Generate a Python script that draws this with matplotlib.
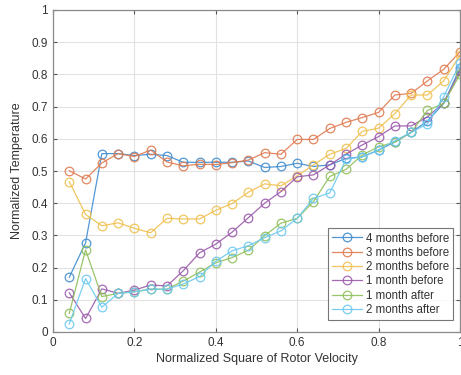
import matplotlib
matplotlib.use("Agg")
import matplotlib.pyplot as plt
import numpy as np

x = [0.04, 0.08, 0.12, 0.16, 0.20, 0.24, 0.28, 0.32, 0.36, 0.40, 0.44, 0.48, 0.52,
     0.56, 0.60, 0.64, 0.68, 0.72, 0.76, 0.80, 0.84, 0.88, 0.92, 0.96, 1.00]

m4_before = [0.170, 0.277, 0.554, 0.554, 0.548, 0.552, 0.548, 0.527, 0.527, 0.527, 0.527, 0.531, 0.511,
             0.514, 0.524, 0.514, 0.519, 0.539, 0.544, 0.565, 0.590, 0.620, 0.655, 0.710, 0.820]
m3_before = [0.501, 0.475, 0.525, 0.554, 0.545, 0.565, 0.528, 0.516, 0.521, 0.520, 0.526, 0.534, 0.557,
             0.552, 0.598, 0.598, 0.632, 0.651, 0.666, 0.682, 0.736, 0.741, 0.780, 0.816, 0.870]
m2_before = [0.467, 0.365, 0.330, 0.339, 0.322, 0.308, 0.353, 0.351, 0.351, 0.378, 0.399, 0.434, 0.460,
             0.454, 0.485, 0.519, 0.552, 0.570, 0.623, 0.633, 0.678, 0.736, 0.736, 0.780, 0.860]
m1_before = [0.122, 0.042, 0.134, 0.120, 0.130, 0.146, 0.143, 0.190, 0.246, 0.273, 0.310, 0.355, 0.400,
             0.436, 0.482, 0.488, 0.519, 0.552, 0.581, 0.607, 0.640, 0.640, 0.668, 0.712, 0.810]
m1_after = [0.058, 0.255, 0.110, 0.120, 0.125, 0.133, 0.133, 0.158, 0.186, 0.215, 0.231, 0.254, 0.299,
            0.338, 0.353, 0.405, 0.483, 0.505, 0.550, 0.575, 0.590, 0.620, 0.688, 0.710, 0.800]
m2_after = [0.025, 0.166, 0.077, 0.120, 0.125, 0.133, 0.133, 0.149, 0.172, 0.220, 0.252, 0.268, 0.293,
            0.314, 0.353, 0.415, 0.432, 0.537, 0.544, 0.565, 0.594, 0.620, 0.646, 0.731, 0.835]

labels = ["4 months before", "3 months before", "2 months before",
          "1 month before", "1 month after", "2 months after"]
series = [m4_before, m3_before, m2_before, m1_before, m1_after, m2_after]
colors = ["#3f8ccf", "#e07a50", "#f0c050", "#9a5aab", "#8fbf5a", "#6cc9f0"]

plt.rcParams['font.family'] = ['Liberation Sans', 'DejaVu Sans']

fig = plt.figure(figsize=(4.61, 3.75), dpi=100)
ax = fig.add_axes([53/461, 43/375, 407/461, 322/375])

for ys, lab, c in zip(series, labels, colors):
    ax.plot(x, ys, '-o', color=c, lw=0.9, ms=6.2, mfc='none', mew=0.9, label=lab, alpha=0.9)

ax.set_xlim(0, 1)
ax.set_ylim(0, 1)
ax.set_xticks(np.arange(0, 1.01, 0.2))
ax.set_xticklabels(["0", "0.2", "0.4", "0.6", "0.8", "1"])
ax.set_yticks(np.arange(0, 1.01, 0.1))
ax.set_yticklabels(["0", "0.1", "0.2", "0.3", "0.4", "0.5", "0.6", "0.7", "0.8", "0.9", "1"])
ax.grid(True, color='#e2e2e2', lw=0.8)
ax.set_axisbelow(True)
ax.tick_params(direction='in', length=3, width=0.8, colors='#555555', labelcolor='#333333',
               labelsize=8.5, top=True, right=True)
for s in ax.spines.values():
    s.set_color('#8a8a8a')
    s.set_linewidth(0.9)

ax.set_xlabel("Normalized Square of Rotor Velocity", fontsize=9, color='#333333', labelpad=3)
ax.set_ylabel("Normalized Temperature", fontsize=9, color='#333333', labelpad=6)

leg = ax.legend(loc='lower right', bbox_to_anchor=(0.983, 0.037), fontsize=8.3,
                frameon=True, fancybox=False, handlelength=2.6, handletextpad=0.3,
                borderpad=0.35, labelspacing=0.2, borderaxespad=0)
leg.get_frame().set_edgecolor('#555555')
leg.get_frame().set_linewidth(0.8)
for t in leg.get_texts():
    t.set_color('#333333')

fig.savefig("out.png", dpi=100)
